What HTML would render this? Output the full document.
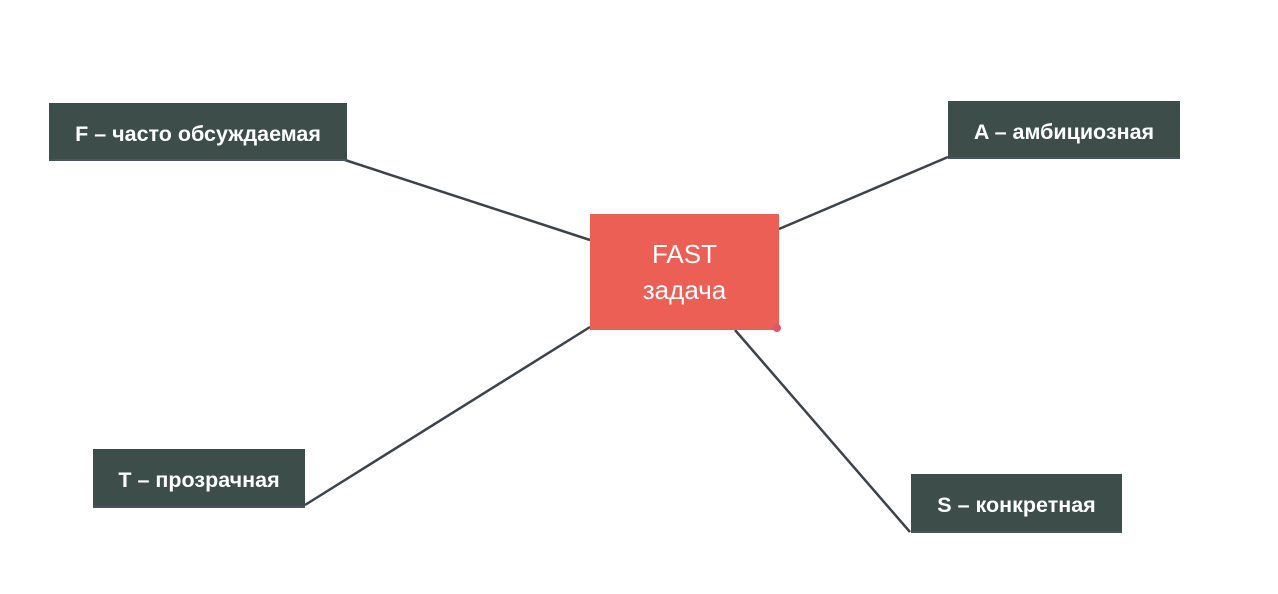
<!DOCTYPE html>
<html><head><meta charset="utf-8"><style>
body{margin:0;width:1278px;height:594px;background:#fff;position:relative;overflow:hidden;font-family:"Liberation Sans","DejaVu Sans",sans-serif}
.b{position:absolute;background:#3c4d4a;color:#fff;font-weight:bold;font-size:21.5px;display:flex;align-items:center;justify-content:center;border-bottom:2px solid #4a5360;box-sizing:border-box;padding-top:6px}
.c{position:absolute;left:590px;top:214px;width:189px;height:116px;background:#eb5f55;color:#fff;font-size:26px;display:flex;flex-direction:column;align-items:center;justify-content:center;line-height:36px}
</style></head><body>
<svg width="1278" height="594" style="position:absolute;left:0;top:0">
<g stroke="#3d434a" stroke-width="2.5" fill="none">
<line x1="345" y1="160" x2="590" y2="240"/>
<line x1="948" y1="157" x2="779" y2="229"/>
<line x1="305" y1="505" x2="590" y2="327"/>
<line x1="735" y1="330" x2="910" y2="532"/>
</g></svg>
<div class="b" style="left:49px;top:103px;width:298px;height:58px">F – часто обсуждаемая</div>
<div class="b" style="left:948px;top:101px;width:232px;height:58px">A – амбициозная</div>
<div class="b" style="left:93px;top:449px;width:212px;height:59px">T – прозрачная</div>
<div class="b" style="left:911px;top:474px;width:211px;height:59px">S – конкретная</div>
<div class="c"><div>FAST</div><div>задача</div></div>
<div style="position:absolute;left:773px;top:324px;width:8px;height:8px;border-radius:50%;background:#e0566e"></div>
</body></html>
